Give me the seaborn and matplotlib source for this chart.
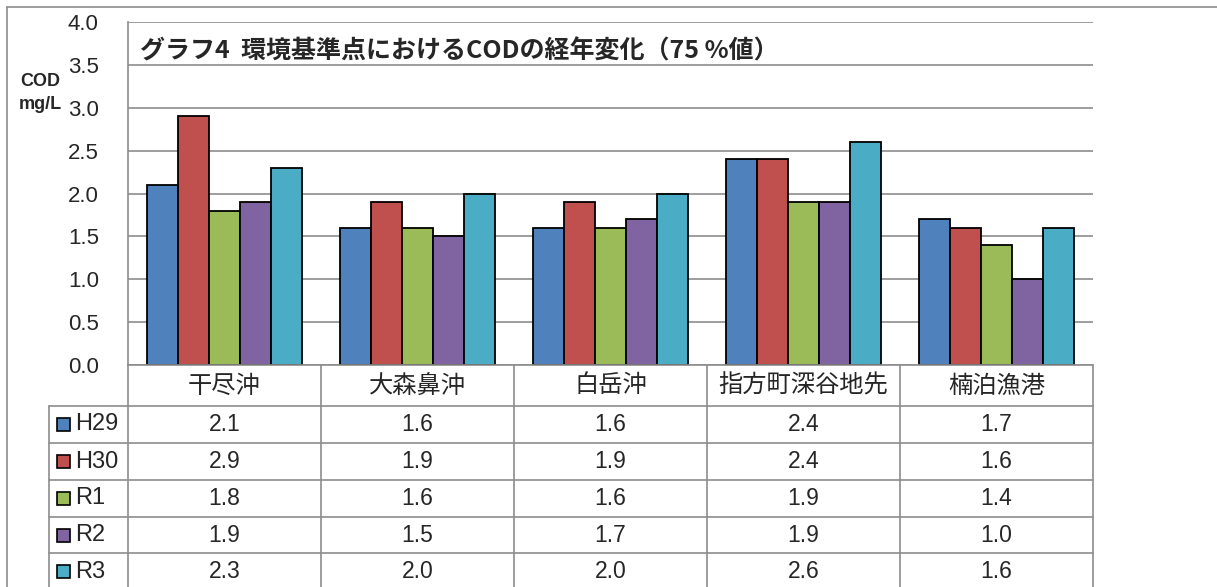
import pandas as pd
import numpy as np
import matplotlib.pyplot as plt
import seaborn as sns
from matplotlib.lines import Line2D
from matplotlib.patches import Rectangle
from matplotlib import transforms

sites = ['干尽沖', '大森鼻沖', '白岳沖', '指方町深谷地先', '楠泊漁港']
years = ['H29', 'H30', 'R1', 'R2', 'R3']
h29 = [2.1, 1.6, 1.6, 2.4, 1.7]
h30 = [2.9, 1.9, 1.9, 2.4, 1.6]
r1 = [1.8, 1.6, 1.6, 1.9, 1.4]
r2 = [1.9, 1.5, 1.7, 1.9, 1.0]
r3 = [2.3, 2.0, 2.0, 2.6, 1.6]
colors = ['#4F81BD', '#C0504D', '#9BBB59', '#8064A2', '#4BACC6']
yticks = [0.0, 0.5, 1.0, 1.5, 2.0, 2.5, 3.0, 3.5, 4.0]

series = [h29, h30, r1, r2, r3]
df = pd.DataFrame({
    'site': np.tile(sites, len(years)),
    'year': np.repeat(years, len(sites)),
    'cod': np.concatenate(series),
})

sns.set_style('white')
plt.rcParams['font.family'] = ['Liberation Sans', 'Noto Sans CJK JP', 'DejaVu Sans']

W, H = 1217, 587
fig = plt.figure(figsize=(W / 100, H / 100), dpi=100)


def fx(x):
    return x / W


def fy(y):
    return 1 - y / H


ax = fig.add_axes([fx(128), fy(365), fx(1093) - fx(128), fy(22) - fy(365)])
sns.barplot(data=df, x='site', y='cod', hue='year', order=sites, hue_order=years,
            palette=colors, saturation=1, edgecolor='black', linewidth=1.3, width=0.8,
            legend=False, ax=ax, zorder=3)
ax.set_xlim(-0.5, len(sites) - 0.5)
ax.set_ylim(0, 4.0)
ax.set_yticks(yticks)
ax.set_yticklabels([f'{v:.1f}' for v in yticks], fontsize=16)
ax.tick_params(axis='y', length=0, pad=21)
ax.set_xticks([])
ax.set_xlabel('')
ax.set_ylabel('')
ax.grid(axis='y', color='#8c8c8c', linewidth=1.2, zorder=0)
for side in ['top', 'right', 'bottom']:
    ax.spines[side].set_visible(False)
ax.spines['left'].set_color('#8c8c8c')
ax.spines['left'].set_linewidth(1.2)

ax.text(0.012, 0.915, 'グラフ4  環境基準点におけるCODの経年変化（75 %値）',
        transform=ax.transAxes, fontsize=18, fontweight='bold',
        family=['Noto Sans CJK JP', 'DejaVu Sans'], va='center', ha='left')
fig.text(fx(40), fy(93), 'COD\nmg/L', fontsize=13, fontweight='bold',
         ha='center', va='center', linespacing=1.5)

# outer frame
grey = '#8c8c8c'
fig.add_artist(Line2D([fx(7), fx(W)], [fy(7), fy(7)], color=grey, lw=1.2))
fig.add_artist(Line2D([fx(7), fx(7)], [fy(7), fy(H + 5)], color=grey, lw=1.2))

# data table below the plot
bt = transforms.blended_transform_factory(ax.transData, fig.transFigure)
row_edges = [365, 406, 443, 480, 517, 553, 590]
n = len(sites)
for i in range(n + 1):
    ax.add_line(Line2D([i - 0.5, i - 0.5], [fy(365), fy(H + 5)], color=grey, lw=1.2,
                       transform=bt, clip_on=False))
for k, y in enumerate(row_edges):
    x0 = fx(49) if k >= 1 else fx(128)
    fig.add_artist(Line2D([x0, fx(1093)], [fy(y), fy(y)], color=grey, lw=1.2))
fig.add_artist(Line2D([fx(49), fx(49)], [fy(406), fy(H + 5)], color=grey, lw=1.2))

for i, s in enumerate(sites):
    ax.text(i, fy((row_edges[0] + row_edges[1]) / 2), s, transform=bt, fontsize=17.5,
            family=['Noto Sans CJK JP', 'DejaVu Sans'], ha='center', va='center')
for r, (yr, vals, c) in enumerate(zip(years, series, colors)):
    yc = (row_edges[r + 1] + row_edges[r + 2]) / 2
    fig.add_artist(Rectangle((fx(57), fy(yc + 6.5)), fx(13), fy(0) - fy(13),
                             facecolor=c, edgecolor='black', lw=1.2))
    fig.text(fx(75), fy(yc), yr, fontsize=17, ha='left', va='center')
    for i, v in enumerate(vals):
        ax.text(i, fy(yc), f'{v:.1f}', transform=bt, fontsize=16.5,
                ha='center', va='center')

fig.savefig('out.png', dpi=100)
